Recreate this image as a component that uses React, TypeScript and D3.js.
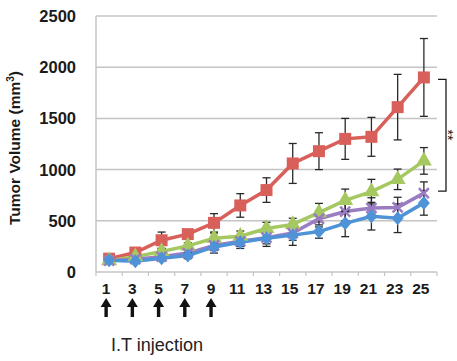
import React from "react";
import * as d3 from "d3";

const days = [1, 3, 5, 7, 9, 11, 13, 15, 17, 19, 21, 23, 25];
const yTicks = [0, 500, 1000, 1500, 2000, 2500];
const injectionDays = [1, 3, 5, 7, 9];

const redVals = [130, 190, 310, 370, 480, 650, 800, 1060, 1180, 1300, 1320, 1610, 1900];
const redErr = [20, 20, 80, 30, 90, 115, 120, 195, 180, 200, 190, 320, 380];
const greenVals = [110, 150, 200, 255, 330, 350, 425, 465, 580, 700, 785, 905, 1085];
const greenErr = [15, 20, 30, 30, 50, 50, 60, 60, 90, 110, 120, 100, 130];
const purpleVals = [110, 125, 150, 185, 260, 300, 335, 380, 520, 590, 625, 630, 770];
const purpleErr = [15, 20, 30, 30, 50, 50, 60, 70, 80, 90, 100, 100, 110];
const blueVals = [115, 105, 135, 160, 245, 290, 330, 360, 395, 475, 545, 525, 675];
const blueErr = [15, 20, 25, 30, 60, 60, 80, 100, 65, 130, 135, 140, 120];

const series = [
  { name: "red", values: redVals, err: redErr, color: "#d9605a", marker: "square" },
  { name: "green", values: greenVals, err: greenErr, color: "#a5c860", marker: "triangle" },
  { name: "purple", values: purpleVals, err: purpleErr, color: "#9a7cc2", marker: "x" },
  { name: "blue", values: blueVals, err: blueErr, color: "#4e93d8", marker: "diamond" },
];

const W = 457;
const H = 361;
const left = 96;
const right = 437;
const top = 16;
const bottom = 272;
const font = "'Liberation Sans', Arial, sans-serif";

export default function App() {
  const x = d3.scaleBand<number>().domain(days).range([left, right]).padding(0);
  const y = d3.scaleLinear().domain([0, 2500]).range([bottom, top]);
  const cx = (d: number) => (x(d) as number) + x.bandwidth() / 2;
  const line = d3.line<number>().x((_, i) => cx(days[i])).y((v) => y(v));

  const marker = (type: string, px: number, py: number, color: string, key: string) => {
    if (type === "square") return <rect key={key} x={px - 6} y={py - 6} width={12} height={12} fill={color} />;
    if (type === "triangle") {
      const p = d3.symbol(d3.symbolTriangle, 110)();
      return <path key={key} d={p as string} transform={`translate(${px},${py})`} fill={color} />;
    }
    if (type === "diamond") {
      return <path key={key} d={`M${px},${py - 7}L${px + 6},${py}L${px},${py + 7}L${px - 6},${py}Z`} fill={color} />;
    }
    return (
      <g key={key} stroke={color} strokeWidth={2.5}>
        <line x1={px - 5} y1={py - 5} x2={px + 5} y2={py + 5} />
        <line x1={px - 5} y1={py + 5} x2={px + 5} y2={py - 5} />
      </g>
    );
  };

  const bracketTop = y(redVals[12]) + 2;
  const bracketBottom = y(purpleVals[12]) - 2;

  return (
    <svg width={W} height={H} style={{ position: "absolute", left: 0, top: 0, background: "#fff" }}>
      {yTicks.filter((t) => t > 0).map((t) => (
        <line key={t} x1={left} x2={right} y1={y(t)} y2={y(t)} stroke="#c4c4c4" strokeWidth={1.5} />
      ))}
      <line x1={left} x2={left} y1={top} y2={bottom} stroke="#c4c4c4" strokeWidth={1.5} />
      <line x1={left} x2={right} y1={bottom} y2={bottom} stroke="#c4c4c4" strokeWidth={1.5} />
      {days.map((d) => (
        <line key={"tk" + d} x1={x(d) as number} x2={x(d) as number} y1={bottom} y2={bottom + 4} stroke="#c4c4c4" strokeWidth={1.2} />
      ))}
      <line x1={right} x2={right} y1={bottom} y2={bottom + 4} stroke="#c4c4c4" strokeWidth={1.2} />
      {yTicks.map((t) => (
        <text key={"yl" + t} x={76} y={y(t) + 6} textAnchor="end" fontFamily={font} fontWeight="bold" fontSize={16.5} fill="#1a1a1a">
          {t}
        </text>
      ))}
      {days.map((d) => (
        <text key={"xl" + d} x={cx(d) - 3} y={294} textAnchor="middle" fontFamily={font} fontWeight="bold" fontSize={15.5} fill="#1a1a1a">
          {d}
        </text>
      ))}
      <text transform={`translate(20,148) rotate(-90)`} textAnchor="middle" fontFamily={font} fontWeight="bold" fontSize={15.5} fill="#1a1a1a">
        Tumor Volume (mm<tspan dy={-6} fontSize={10}>3</tspan><tspan dy={6}>)</tspan>
      </text>
      {series.map((s) => (
        <path key={"l" + s.name} d={line(s.values) as string} fill="none" stroke={s.color} strokeWidth={3.5} />
      ))}
      {series.map((s) =>
        s.values.map((v, i) => {
          const px = cx(days[i]);
          const y1 = y(v + s.err[i]);
          const y2 = y(v - s.err[i]);
          return (
            <g key={"e" + s.name + i} stroke="#2a2a2a" strokeWidth={1.3}>
              <line x1={px} x2={px} y1={y1} y2={y2} />
              <line x1={px - 4} x2={px + 4} y1={y1} y2={y1} />
              <line x1={px - 4} x2={px + 4} y1={y2} y2={y2} />
            </g>
          );
        })
      )}
      {series.map((s) => s.values.map((v, i) => marker(s.marker, cx(days[i]), y(v), s.color, "m" + s.name + i)))}
      <path d={`M438,${bracketTop}H446V${bracketBottom}H438`} stroke="#1a1a1a" strokeWidth={1.3} fill="none" />
      <text transform={`translate(443,135) rotate(90)`} textAnchor="middle" fontFamily={font} fontSize={14} fill="#1a1a1a">
        **
      </text>
      {injectionDays.map((d) => {
        const px = cx(d) - 3;
        return (
          <path key={"a" + d} d={`M${px},298L${px + 5.5},307H${px + 1.7}V317H${px - 1.7}V307H${px - 5.5}Z`} fill="#111" />
        );
      })}
      <text x={111} y={351} fontFamily={font} fontSize={17.5} textLength={92} lengthAdjust="spacingAndGlyphs" fill="#222">
        I.T injection
      </text>
    </svg>
  );
}
